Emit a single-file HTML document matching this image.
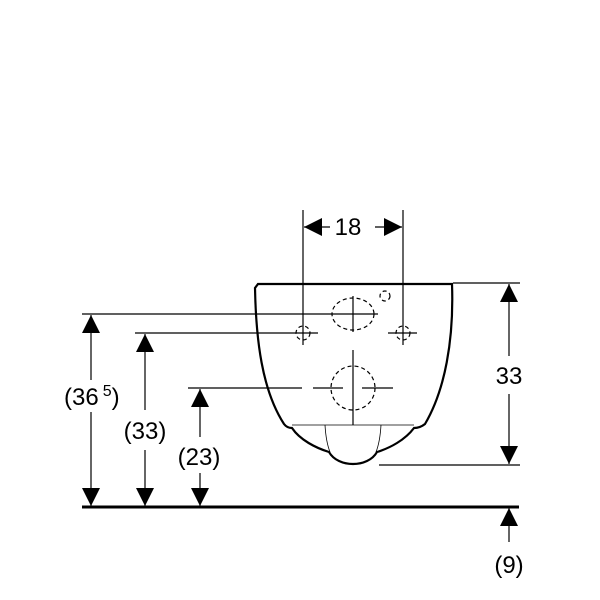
<!DOCTYPE html>
<html><head><meta charset="utf-8"><style>
html,body{margin:0;padding:0;background:#fff;}
svg{display:block;}
text{font-family:"Liberation Sans",sans-serif;font-size:24px;fill:#000;}
</style></head><body>
<svg width="600" height="600" viewBox="0 0 600 600">
<defs>
<marker id="a" viewBox="0 0 10 10" refX="10" refY="5" markerWidth="18" markerHeight="18" markerUnits="userSpaceOnUse" orient="auto"><path d="M0,0L10,5L0,10z" fill="#000"/></marker>
</defs>
<g stroke="#000" fill="none" stroke-width="1.2">
<line x1="82" y1="314" x2="378" y2="314"/>
<line x1="135" y1="333" x2="318" y2="333"/>
<line x1="188" y1="388" x2="302" y2="388"/>
<line x1="313" y1="388" x2="343" y2="388"/>
<line x1="362" y1="388" x2="393" y2="388"/>
<line x1="303" y1="210" x2="303" y2="345"/>
<line x1="403" y1="210" x2="403" y2="345"/>
<line x1="388" y1="333" x2="417" y2="333"/>
<line x1="353" y1="296" x2="353" y2="332"/>
<line x1="353" y1="350" x2="353" y2="425"/>
<line x1="453" y1="283" x2="520" y2="283"/>
<line x1="379" y1="465" x2="520" y2="465"/>
<g stroke-dasharray="4,3">
<ellipse cx="353" cy="314" rx="21" ry="16"/>
<circle cx="353" cy="388" r="22"/>
<circle cx="303" cy="333" r="7"/>
<circle cx="403" cy="333" r="7"/>
<circle cx="385" cy="296" r="5"/>
</g>
<path d="M258,284 L452,284 C454,340 445,390 425,424 Q420,428 414,428 C405,440 390,448 377,452 C368,468 338,468 329,452 C316,448 300,440 292,428 Q287,428 284,424 C262,390 256,340 255,288 Z" stroke-width="2.2"/>
<line x1="292" y1="425" x2="414" y2="425" stroke-width="0.8"/>
<path d="M325,425 Q326,442 330,452 M381,425 Q380,442 376,452" stroke-width="0.8"/>
<line x1="82" y1="507" x2="519" y2="507" stroke-width="3"/>
<line x1="91" y1="380" x2="91" y2="315" marker-end="url(#a)"/>
<line x1="91" y1="412" x2="91" y2="506" marker-end="url(#a)"/>
<line x1="145" y1="410" x2="145" y2="334" marker-end="url(#a)"/>
<line x1="145" y1="450" x2="145" y2="506" marker-end="url(#a)"/>
<line x1="200" y1="437" x2="200" y2="389" marker-end="url(#a)"/>
<line x1="200" y1="473" x2="200" y2="506" marker-end="url(#a)"/>
<line x1="509" y1="356" x2="509" y2="284" marker-end="url(#a)"/>
<line x1="509" y1="394" x2="509" y2="464" marker-end="url(#a)"/>
<line x1="509" y1="542" x2="509" y2="508" marker-end="url(#a)"/>
<line x1="330" y1="227" x2="304" y2="227" marker-end="url(#a)"/>
<line x1="375" y1="227" x2="402" y2="227" marker-end="url(#a)"/>
</g>
<text x="348" y="235" text-anchor="middle">18</text>
<text x="509" y="384" text-anchor="middle">33</text>
<text x="509" y="573" text-anchor="middle">(9)</text>
<text x="64" y="405">(36<tspan font-size="16" dx="4" dy="-9">5</tspan><tspan dy="9">)</tspan></text>
<text x="145" y="439" text-anchor="middle">(33)</text>
<text x="199" y="465" text-anchor="middle">(23)</text>
</svg>
</body></html>
